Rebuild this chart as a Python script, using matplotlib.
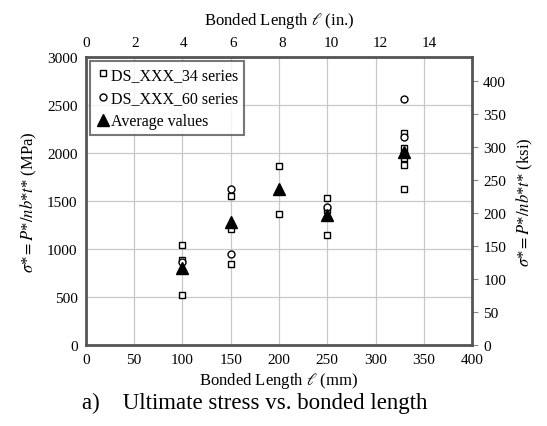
import matplotlib
matplotlib.use("Agg")
import matplotlib.pyplot as plt
import numpy as np

plt.rcParams['font.family'] = ['Liberation Serif', 'DejaVu Serif']
plt.rcParams['mathtext.fontset'] = 'stix'

# ----------------------- Test results (MPa) ---------------------------
len_34 = [100, 100, 100, 150, 150, 150, 200, 200, 250, 250, 250, 330, 330, 330, 330, 330]
stress_34 = [1040, 890, 525, 1555, 1210, 840, 1870, 1365, 1530, 1410, 1145, 2210, 2050, 1950, 1880, 1630]

len_60 = [100, 150, 150, 250, 330, 330, 330]
stress_60 = [870, 1630, 945, 1440, 2570, 2170, 2000]

len_avg = [100, 150, 200, 250, 330]
stress_avg = [805, 1285, 1625, 1360, 2010]

MPA_PER_KSI = 6.895
MM_PER_IN = 25.4

# ----------------------- Plot ---------------------------
fig = plt.figure(figsize=(5.47, 4.27), dpi=100)
ax = fig.add_axes([0.157, 0.19, 0.706, 0.673])

ax.plot(len_34, stress_34, linestyle='none', marker='s', markersize=5,
        markerfacecolor='white', markeredgecolor='black', markeredgewidth=1.0,
        label='DS_XXX_34 series', zorder=3)
ax.plot(len_60, stress_60, linestyle='none', marker='o', markersize=5,
        markerfacecolor='white', markeredgecolor='black', markeredgewidth=1.0,
        label='DS_XXX_60 series', zorder=3)
ax.plot(len_avg, stress_avg, linestyle='none', marker='^', markersize=8,
        color='black', label='Average values', zorder=4)

ax.set_xlim(0, 400)
ax.set_ylim(0, 3000)
ax.set_xticks(np.arange(0, 401, 50))
ax.set_yticks(np.arange(0, 3001, 500))
ax.grid(True, color='#c8c8c8', linewidth=0.9)
ax.set_axisbelow(True)
ax.tick_params(axis='both', labelsize=11, length=0, pad=6)
for s in ax.spines.values():
    s.set_color('#555555')
    s.set_linewidth(2.0)

ax.set_xlabel(r'Bonded Length $\ell$ (mm)', fontsize=12, labelpad=3)
ax.set_ylabel(r'$\sigma$*$=P$*$/nb$*$t$* (MPa)', fontsize=12, labelpad=6)

# secondary axes in US units
top = ax.secondary_xaxis('top', functions=(lambda x: x / MM_PER_IN, lambda x: x * MM_PER_IN))
top.set_xticks(np.arange(0, 15, 2))
top.tick_params(labelsize=11, length=0, pad=6)
top.set_xlabel(r'Bonded Length $\ell$ (in.)', fontsize=12, labelpad=9)

right = ax.secondary_yaxis('right', functions=(lambda y: y / MPA_PER_KSI, lambda y: y * MPA_PER_KSI))
right.set_yticks(np.arange(0, 401, 50))
right.tick_params(labelsize=11, length=4, width=0.8, color='#888888', pad=4)
right.set_ylabel(r'$\sigma$*$=P$*$/nb$*$t$* (ksi)', fontsize=12, labelpad=6)

leg = ax.legend(loc='upper left', fontsize=11.5, handletextpad=0.1, handlelength=0.9,
                borderpad=0.35, labelspacing=0.45, fancybox=False, borderaxespad=0.25)
leg.get_frame().set_edgecolor('#555555')
leg.get_frame().set_linewidth(1.5)

fig.text(0.465, 0.03, 'a)    Ultimate stress vs. bonded length', ha='center', va='bottom', fontsize=16.5)

plt.savefig('out.png', dpi=100)
